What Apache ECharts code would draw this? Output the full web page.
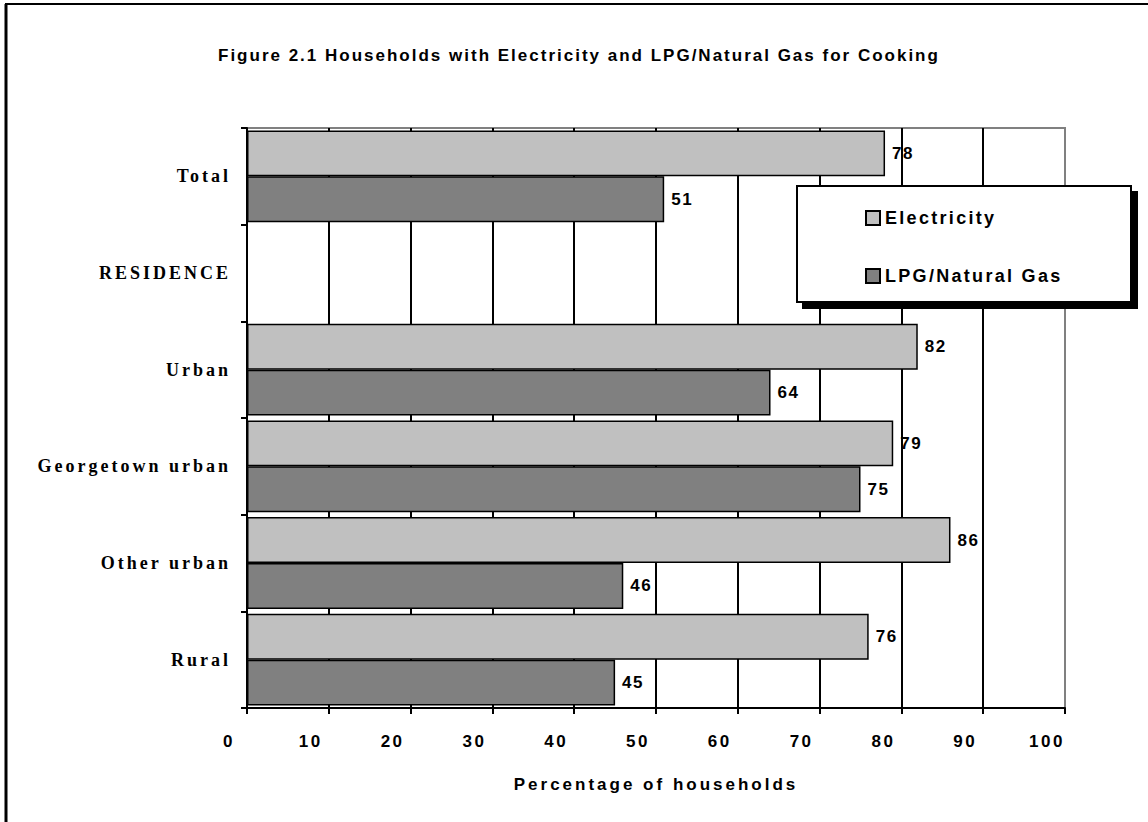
<!DOCTYPE html>
<html>
<head>
<meta charset="utf-8">
<title>Figure 2.1</title>
<script src="https://cdn.jsdelivr.net/npm/echarts@6/dist/echarts.min.js"></script>
<style>
  html, body { margin: 0; padding: 0; background: #fff; }
  #chart { width: 1148px; height: 822px; }
  /* 原图文字字距较宽，用字体列表里的标记名区分 */
  #chart text { letter-spacing: 1.5px; }
  #chart text[style*="tagTitle"] { letter-spacing: 2px; }
  #chart text[style*="tagTick"] { letter-spacing: 2.5px; }
  #chart text[style*="tagLegend"] { letter-spacing: 2.3px; }
  #chart text[style*="tagName"] { letter-spacing: 3px; }
  #chart text[style*="Serif"] { letter-spacing: 3px; }
</style>
</head>
<body>
<div id="chart"></div>
<script>
// 分类（从上到下）
const categories = ['Total', 'RESIDENCE', 'Urban', 'Georgetown urban', 'Other urban', 'Rural']
// 有电的家庭比例
const electricity = [78, null, 82, 79, 86, 76]
// 用液化气/天然气做饭的家庭比例
const lpgGas = [51, null, 64, 75, 46, 45]
const seriesNames = ['Electricity', 'LPG/Natural Gas']
const xTicks = [0, 100, 10]

const sans = (tag) => "'Liberation Sans', " + tag
const serifFont = "'Liberation Serif'"

const chart = echarts.init(document.getElementById('chart'), null, { renderer: 'svg' })

const barLabel = {
  show: true,
  position: 'right',
  distance: 7,
  color: '#000',
  fontFamily: sans('tagBar'),
  fontWeight: 'bold',
  fontSize: 17,
  formatter: '{c}'
}

const option = {
  animation: false,
  backgroundColor: '#fff',
  title: {
    text: 'Figure 2.1 Households with Electricity and LPG/Natural Gas for Cooking',
    left: 213,
    top: 42,
    textStyle: {
      color: '#000',
      fontFamily: sans('tagTitle'),
      fontWeight: 'bold',
      fontSize: 17
    }
  },
  grid: {
    left: 247,
    right: 83,
    top: 128,
    bottom: 114,
    show: true,
    borderColor: '#808080',
    borderWidth: 2,
    backgroundColor: 'transparent'
  },
  legend: {
    data: seriesNames,
    orient: 'vertical',
    left: 860,
    top: 204,
    itemGap: 40,
    itemWidth: 14,
    itemHeight: 14,
    icon: 'rect',
    z: 10,
    textStyle: {
      color: '#000',
      fontFamily: sans('tagLegend'),
      fontWeight: 'bold',
      fontSize: 18
    }
  },
  xAxis: {
    type: 'value',
    min: xTicks[0],
    max: xTicks[1],
    interval: xTicks[2],
    name: 'Percentage of households',
    nameLocation: 'middle',
    nameGap: 68,
    nameTextStyle: {
      color: '#000',
      fontFamily: sans('tagName'),
      fontWeight: 'bold',
      fontSize: 17
    },
    axisLine: { show: true, lineStyle: { color: '#000', width: 2 } },
    axisTick: { show: true, length: 6, lineStyle: { color: '#000', width: 2 } },
    axisLabel: {
      color: '#000',
      fontFamily: sans('tagTick'),
      fontWeight: 'bold',
      fontSize: 17,
      margin: 25,
      padding: [0, 36, 0, 0]
    },
    splitLine: {
      show: true,
      showMinLine: false,
      showMaxLine: false,
      lineStyle: { color: '#000', width: 2 }
    }
  },
  yAxis: {
    type: 'category',
    data: categories,
    inverse: true,
    axisLine: { show: true, lineStyle: { color: '#000', width: 2 } },
    axisTick: { show: true, length: 6, lineStyle: { color: '#000', width: 2 } },
    axisLabel: {
      color: '#000',
      fontFamily: serifFont,
      fontWeight: 'bold',
      fontSize: 18,
      margin: 16
    },
    splitLine: { show: false }
  },
  series: [
    {
      name: seriesNames[0],
      type: 'bar',
      data: electricity,
      barGap: '0%',
      barCategoryGap: '5%',
      itemStyle: { color: '#c0c0c0', borderColor: '#000', borderWidth: 1.5 },
      label: barLabel
    },
    {
      name: seriesNames[1],
      type: 'bar',
      data: lpgGas,
      barGap: '0%',
      barCategoryGap: '5%',
      itemStyle: { color: '#808080', borderColor: '#000', borderWidth: 1.5 },
      label: barLabel
    }
  ],
  graphic: [
    // 外框（上边和左边）
    {
      type: 'line',
      shape: { x1: 5, y1: 4, x2: 1148, y2: 4 },
      style: { stroke: '#000', lineWidth: 2 },
      z: 100
    },
    {
      type: 'line',
      shape: { x1: 6, y1: 4, x2: 6, y2: 822 },
      style: { stroke: '#000', lineWidth: 3 },
      z: 100
    },
    // 图例背景框和阴影
    {
      type: 'rect',
      shape: { x: 797, y: 186, width: 334, height: 116 },
      style: {
        fill: '#fff',
        stroke: '#000',
        lineWidth: 2,
        shadowColor: '#000',
        shadowOffsetX: 6,
        shadowOffsetY: 6,
        shadowBlur: 0
      },
      z: 5
    }
  ]
}

chart.setOption(option)
</script>
</body>
</html>
